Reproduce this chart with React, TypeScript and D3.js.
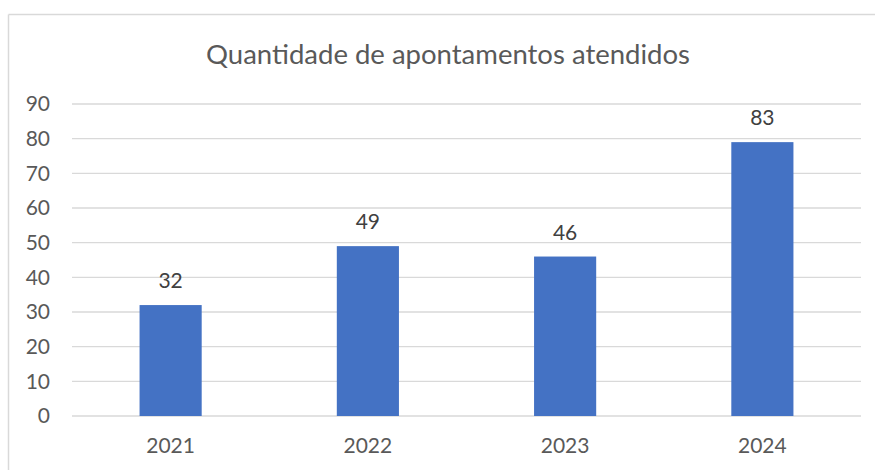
import React from 'react'
import * as d3 from 'd3'

const title = 'Quantidade de apontamentos atendidos'
const years = ['2021', '2022', '2023', '2024']
// bar heights as drawn in the picture
const values = [32, 49, 46, 79]
// data labels as printed above the bars
const dataLabels = ['32', '49', '46', '83']
const yTicks = [0, 10, 20, 30, 40, 50, 60, 70, 80, 90]

const W = 875
const H = 470
const left = 72
const right = 861
const top = 104
const bottom = 416
const textColor = '#595959'
const font = 'Lato, "Open Sans", sans-serif'

export default function App() {
  const x = d3.scaleBand().domain(years).range([left, right]).paddingInner(0.685).paddingOuter(0.3425)
  const y = d3.scaleLinear().domain([0, 90]).range([bottom, top])

  return (
    <svg
      width={W}
      height={H}
      style={{position: 'absolute', left: 0, top: 0, background: '#fff'}}
      fontFamily={font}
    >
      <rect x={0} y={0} width={W} height={H} fill="#fff" />
      {/* chart border: top and left edges are visible */}
      <line x1={8.5} x2={W} y1={14.5} y2={14.5} stroke="#d9d9d9" strokeWidth={1.5} />
      <line x1={8.5} x2={8.5} y1={14.5} y2={H} stroke="#d9d9d9" strokeWidth={1.5} />

      <text x={448} y={64} textAnchor="middle" fontSize={27.5} fill={textColor}>
        {title}
      </text>

      {yTicks.map((t) => (
        <g key={t}>
          <line x1={left} x2={right} y1={y(t)} y2={y(t)} stroke="#d9d9d9" strokeWidth={1.3} />
          <text x={50} y={y(t)} dy="0.35em" textAnchor="end" fontSize={21} fill={textColor}>
            {t}
          </text>
        </g>
      ))}

      {years.map((yr, i) => (
        <g key={yr}>
          <rect
            x={x(yr)}
            y={y(values[i])}
            width={x.bandwidth()}
            height={y(0) - y(values[i])}
            fill="#4472c4"
          />
          <text
            x={(x(yr) as number) + x.bandwidth() / 2}
            y={y(values[i]) - 24}
            dy="0.35em"
            textAnchor="middle"
            fontSize={21}
            fill="#404040"
          >
            {dataLabels[i]}
          </text>
          <text
            x={(x(yr) as number) + x.bandwidth() / 2}
            y={446}
            dy="0.35em"
            textAnchor="middle"
            fontSize={21}
            fill={textColor}
          >
            {yr}
          </text>
        </g>
      ))}
    </svg>
  )
}
